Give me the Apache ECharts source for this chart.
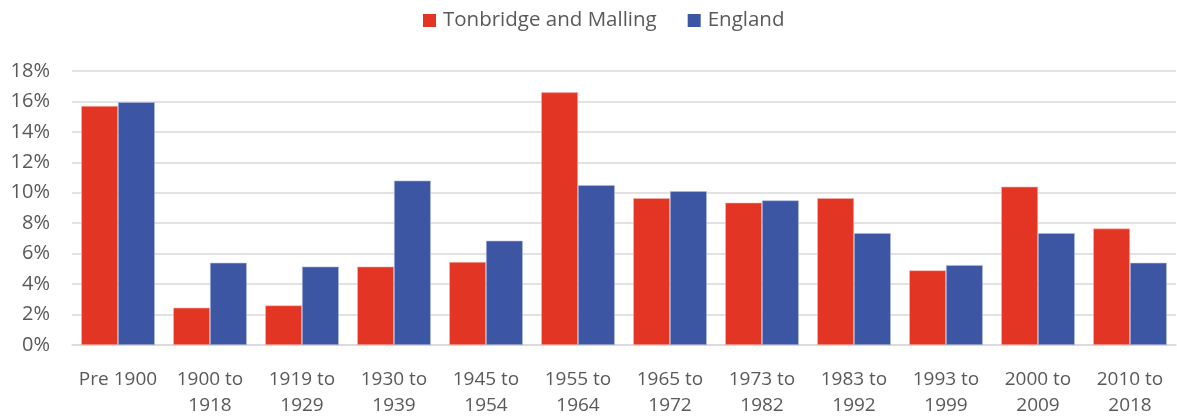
<!DOCTYPE html>
<html lang="en">
<head>
    <meta charset="UTF-8">
    <script type="text/javascript" src="https://cdn.jsdelivr.net/npm/echarts@6/dist/echarts.min.js"></script>
    <style>
        html, body { margin: 0; padding: 0; background: #ffffff; }
        #main { width: 1177px; height: 419px; }
    </style>
</head>
<body>
    <div id="main"></div>

    <script type="text/javascript">
        // age of dwelling bands
        var categories = ['Pre 1900', '1900 to\n1918', '1919 to\n1929', '1930 to\n1939', '1945 to\n1954', '1955 to\n1964',
            '1965 to\n1972', '1973 to\n1982', '1983 to\n1992', '1993 to\n1999', '2000 to\n2009', '2010 to\n2018'];
        var tonbridge = [15.7, 2.45, 2.6, 5.15, 5.45, 16.6, 9.65, 9.35, 9.65, 4.9, 10.4, 7.65];
        var england = [15.95, 5.4, 5.15, 10.8, 6.85, 10.5, 10.1, 9.5, 7.35, 5.25, 7.35, 5.4];
        var yTicks = [0, 2, 4, 6, 8, 10, 12, 14, 16, 18];

        var font = '"Open Sans", sans-serif';
        var myChart = echarts.init(document.getElementById('main'));
        var option = {
            animation: false,
            color: ['#E33524', '#3C56A3'],
            legend: {
                top: 5,
                left: 418,
                itemWidth: 13,
                itemHeight: 13,
                itemGap: 31,
                icon: 'rect',
                itemStyle: { borderWidth: 0 },
                textStyle: { fontFamily: font, fontSize: 20.5, color: '#595959', padding: [0, 0, 0, 2] },
                data: ['Tonbridge and Malling', 'England']
            },
            grid: { left: 72, right: 1, top: 71, bottom: 73 },
            xAxis: {
                type: 'category',
                data: categories,
                axisLine: { lineStyle: { color: '#d9d9d9', width: 1.5 } },
                axisTick: { show: false },
                axisLabel: {
                    interval: 0,
                    margin: 22,
                    lineHeight: 26,
                    fontFamily: font,
                    fontSize: 19,
                    color: '#595959'
                }
            },
            yAxis: {
                type: 'value',
                min: yTicks[0],
                max: yTicks[yTicks.length - 1],
                interval: 2,
                axisLine: { show: false },
                axisTick: { show: false },
                splitLine: { lineStyle: { color: '#d9d9d9', width: 1.5 } },
                axisLabel: {
                    margin: 22,
                    fontFamily: font,
                    fontSize: 20,
                    color: '#595959',
                    formatter: '{value}%'
                }
            },
            series: [
                {
                    name: 'Tonbridge and Malling',
                    type: 'bar',
                    barGap: '0%',
                    barCategoryGap: '20%',
                    itemStyle: { borderColor: '#f6b8b0', borderWidth: 0.6 },
                    data: tonbridge
                },
                {
                    name: 'England',
                    type: 'bar',
                    itemStyle: { borderColor: '#b3bde0', borderWidth: 0.6 },
                    data: england
                }
            ]
        };
        myChart.setOption(option);
    </script>
</body>
</html>
